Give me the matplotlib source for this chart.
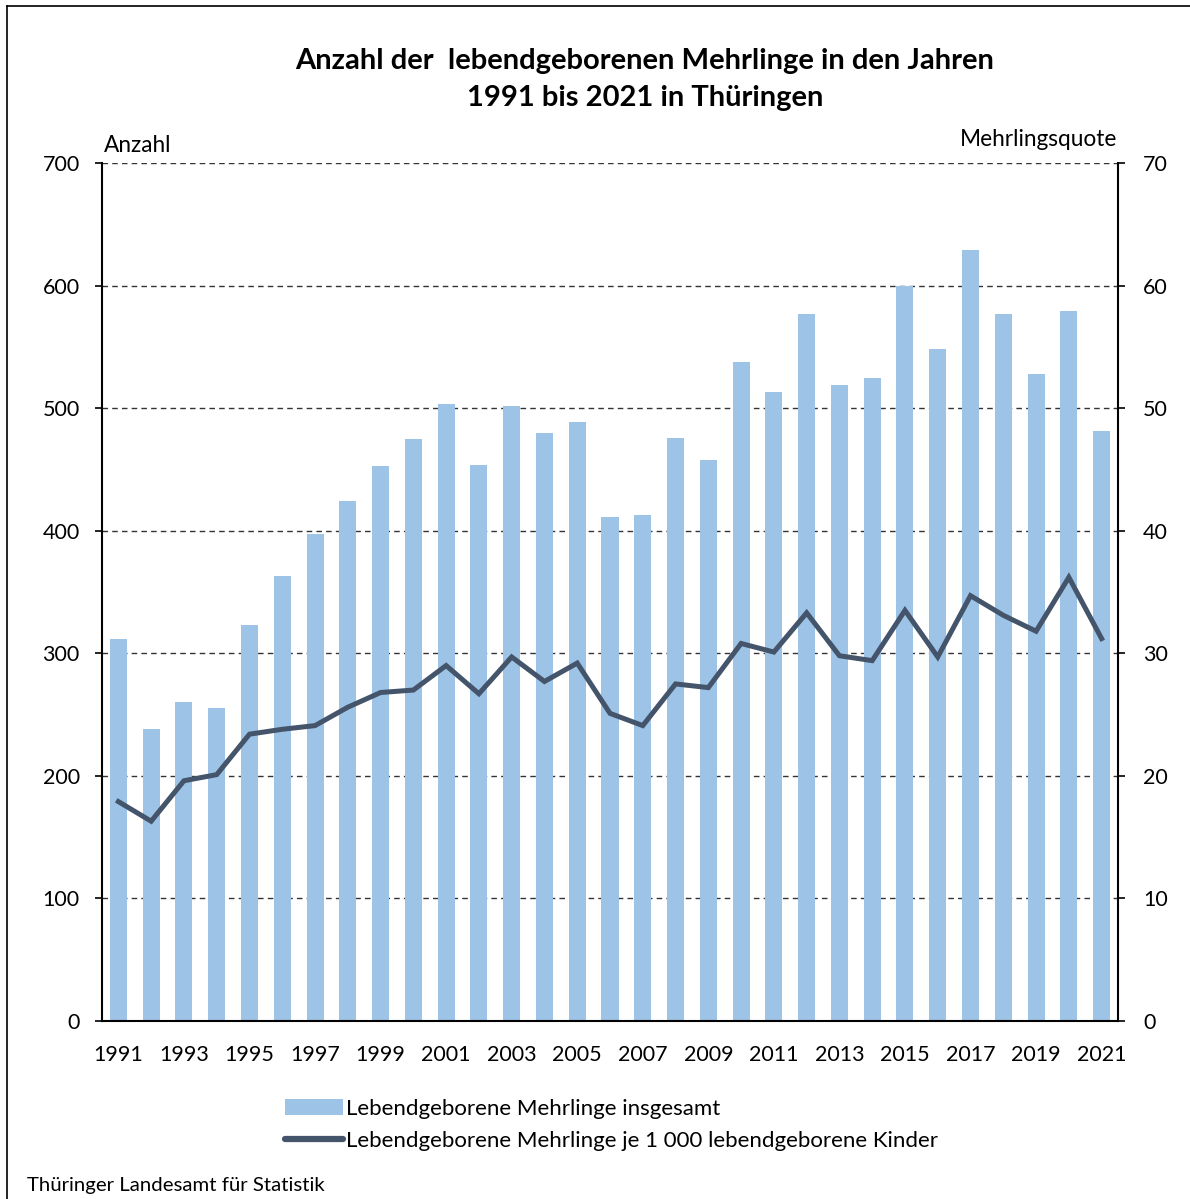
import matplotlib.pyplot as plt
from matplotlib.lines import Line2D
from matplotlib.patches import Patch

plt.rcParams['font.family'] = ['Lato', 'DejaVu Sans']

# Daten
jahre = list(range(1991, 2022))
anzahl = [312, 238, 260, 255, 323, 363, 397, 424, 453, 475,
          503, 454, 502, 480, 489, 411, 413, 476, 458, 538,
          513, 577, 519, 525, 600, 548, 629, 577, 528, 579, 481]
quote = [17.9, 16.3, 19.6, 20.1, 23.4, 23.8, 24.1, 25.6, 26.8, 27.0,
         29.0, 26.7, 29.7, 27.7, 29.2, 25.1, 24.1, 27.5, 27.2, 30.8,
         30.1, 33.3, 29.8, 29.4, 33.5, 29.7, 34.7, 33.1, 31.8, 36.2, 31.2]
tick_jahre = list(range(1991, 2022, 2))
links_ticks = list(range(0, 701, 100))
rechts_ticks = list(range(0, 71, 10))

bar_col = '#9dc3e6'
line_col = '#44546a'

fig = plt.figure(figsize=(11.9, 11.99), dpi=100)
ax = fig.add_axes([102/1190, 1-1021/1199, 1016/1190, 858/1199])
ax2 = ax.twinx()

ax.bar(jahre, anzahl, width=0.52, color=bar_col, zorder=2)
ax.set_xlim(1990.5, 2021.5)
ax.set_ylim(0, 700)
ax.set_yticks(links_ticks)
ax.set_xticks(tick_jahre)
ax.tick_params(axis='x', length=0, pad=17, labelsize=15.5)
ax.tick_params(axis='y', direction='out', length=5, width=1.2, pad=11, labelsize=15.5)
for y in links_ticks[1:]:
    ax.axhline(y, color='#333333', lw=1, ls=(0, (4, 3)), zorder=1)
for s in ['top', 'left', 'right', 'bottom']:
    ax.spines[s].set_visible(False)
ax.spines['left'].set_visible(True)
ax.spines['left'].set_linewidth(1.5)
ax.spines['bottom'].set_visible(True)
ax.spines['bottom'].set_linewidth(1.5)

ax2.plot(jahre, quote, color=line_col, lw=3.6, solid_joinstyle='miter', zorder=3)
ax2.set_ylim(0, 70)
ax2.set_yticks(rechts_ticks)
ax2.tick_params(axis='y', direction='out', length=5, width=1.2, pad=13, labelsize=15.5)
for s in ['top', 'left', 'bottom']:
    ax2.spines[s].set_visible(False)
ax2.spines['right'].set_linewidth(1.5)

fig.text(104/1190, 1-145/1199, 'Anzahl', fontsize=16.3, ha='left', va='center')
fig.text(1117/1190, 1-139/1199, 'Mehrlingsquote', fontsize=16.3, ha='right', va='center')

fig.text(645/1190, 1-61/1199, 'Anzahl der  lebendgeborenen Mehrlinge in den Jahren',
         fontsize=21, fontweight='bold', ha='center', va='center')
fig.text(645/1190, 1-98/1199, '1991 bis 2021 in Thüringen',
         fontsize=21, fontweight='bold', ha='center', va='center')

handles = [Patch(facecolor=bar_col, edgecolor='none'),
           Line2D([0], [0], color=line_col, lw=4.5, solid_capstyle='round')]
labels = ['Lebendgeborene Mehrlinge insgesamt',
          'Lebendgeborene Mehrlinge je 1 000 lebendgeborene Kinder']
fig.legend(handles, labels, loc='upper left', bbox_to_anchor=(276/1190, 1-1090/1199),
           frameon=False, fontsize=16, handlelength=2.6, handletextpad=0.15,
           labelspacing=0.55, borderaxespad=0)

fig.text(27/1190, 1-1185/1199, 'Thüringer Landesamt für Statistik', fontsize=14.7,
         ha='left', va='center')

# Rahmen oben und links
fig.add_artist(Line2D([7/1190, 1], [1-6/1199, 1-6/1199], color='black', lw=1.2))
fig.add_artist(Line2D([7/1190, 7/1190], [0, 1-6/1199], color='black', lw=1.2))

fig.savefig('out.png', dpi=100)
